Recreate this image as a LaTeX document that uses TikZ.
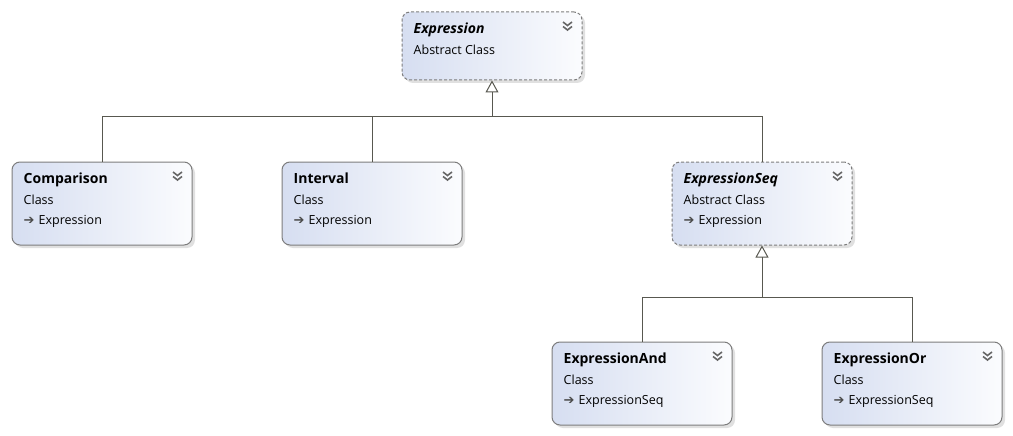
\documentclass[tikz,border=0pt]{standalone}
\usepackage{fontspec}
\setmainfont{Open Sans}
\newfontfamily\symfont{DejaVu Sans}
\usepackage{tikz}
\usetikzlibrary{positioning, arrows.meta, shadows}

\definecolor{boxL}{RGB}{214,222,241}
\definecolor{boxR}{RGB}{251,252,254}
\definecolor{edge}{RGB}{125,125,125}
\definecolor{wire}{RGB}{88,88,80}

\newcommand{\ttl}[1]{{\fontsize{14}{20.5}\selectfont\bfseries #1}}
\newcommand{\attl}[1]{{\fontsize{14}{20.5}\selectfont\bfseries\itshape #1}}
\newcommand{\basecls}[1]{{\symfont\fontsize{13}{13}\selectfont\color{black!70}➔}\hspace{4pt}#1}
\newcommand{\chevs}[1]{%
  \draw[chev] ([shift={(-19.5,10.5)}]#1.north east) -- ++(4.5,3.5) -- ++(4.5,-3.5)
              ([shift={(-19.5,15)}]#1.north east) -- ++(4.5,3.5) -- ++(4.5,-3.5);}

\begin{document}
\begin{tikzpicture}[x=1pt, y=-1pt,
  cls/.style={draw=edge, line width=1pt, rounded corners=8pt,
              left color=boxL, right color=boxR, inner sep=0pt,
              minimum width=180pt, minimum height=83pt,
              drop shadow={shadow xshift=3pt, shadow yshift=-3pt, opacity=.22, fill=black!55}},
  abscls/.style={cls, dash pattern=on 3pt off 2pt},
  txt/.style={anchor=north west, align=left, inner sep=0pt,
              font=\fontsize{12.5}{20.5}\selectfont},
  gen/.style={draw=wire, line width=1pt},
  tip/.style={gen, -{Triangle[open, length=12pt, width=13pt]}},
  chev/.style={draw=black!60, line width=1.6pt}]
  \useasboundingbox (0,0) rectangle (1013,436);

  % classes
  \node[abscls, minimum height=68pt] (expr) at (492,46) {};
  \node[cls] (cmp) at (102,203.5) {};
  \node[cls] (intv) at (372,203.5) {};
  \node[abscls] (seq) at (762,203.5) {};
  \node[cls] (and) at (642,383.5) {};
  \node[cls] (or) at (912,383.5) {};

  % texts
  \node[txt] (expr-t) at ([shift={(12,11.5)}]expr.north west) {\attl{Expression}\\Abstract Class};
  \node[txt] (cmp-t) at ([shift={(12,11.5)}]cmp.north west) {\ttl{Comparison}\\Class\\\basecls{Expression}};
  \node[txt] (intv-t) at ([shift={(12,11.5)}]intv.north west) {\ttl{Interval}\\Class\\\basecls{Expression}};
  \node[txt] (seq-t) at ([shift={(12,11.5)}]seq.north west) {\attl{ExpressionSeq}\\Abstract Class\\\basecls{Expression}};
  \node[txt] (and-t) at ([shift={(12,11.5)}]and.north west) {\ttl{ExpressionAnd}\\Class\\\basecls{ExpressionSeq}};
  \node[txt] (or-t) at ([shift={(12,11.5)}]or.north west) {\ttl{ExpressionOr}\\Class\\\basecls{ExpressionSeq}};

  \foreach \n in {expr, cmp, intv, seq, and, or} {\chevs{\n}}

  % inheritance
  \coordinate (j1) at (492,117);
  \coordinate (j2) at (762,297);
  \draw[gen] (cmp.north) |- (j1);
  \draw[gen] (intv.north) |- (j1);
  \draw[gen] (seq.north) |- (j1);
  \draw[tip] (j1) -- (expr.south);
  \draw[gen] (and.north) |- (j2);
  \draw[gen] (or.north) |- (j2);
  \draw[tip] (j2) -- (seq.south);
\end{tikzpicture}
\end{document}
